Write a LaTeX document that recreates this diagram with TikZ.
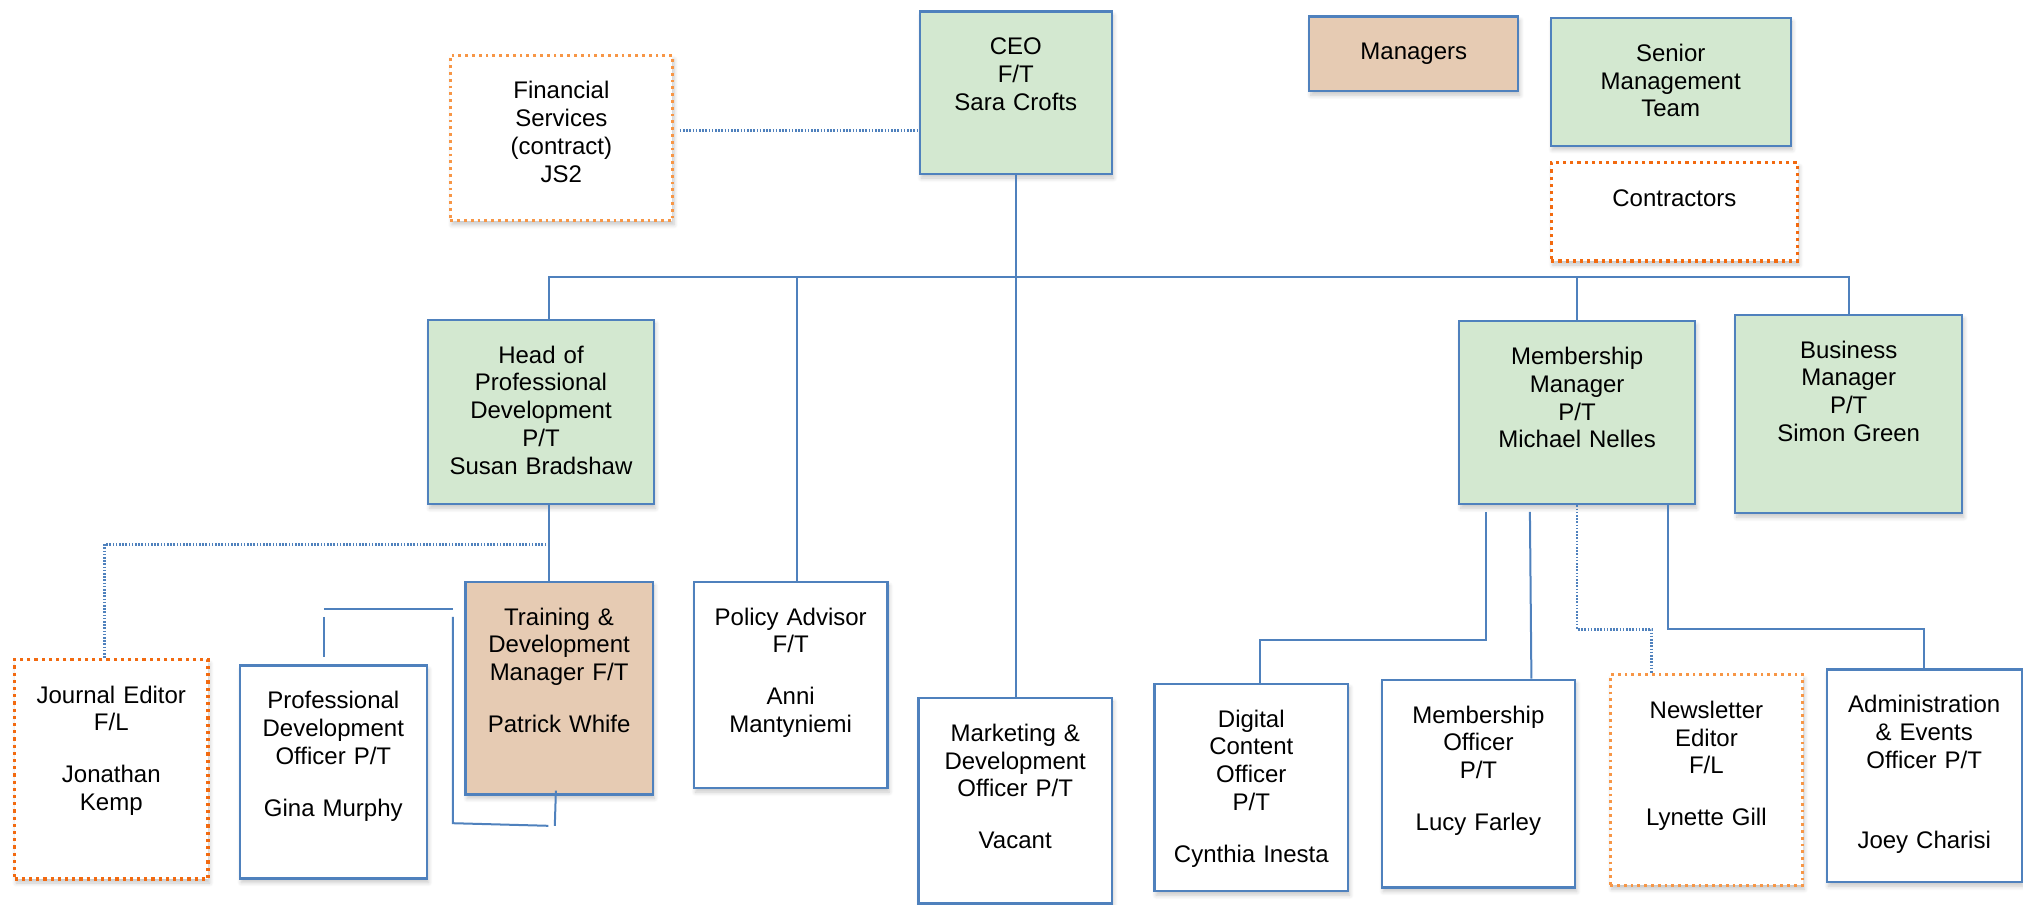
\documentclass[tikz,border=0pt]{standalone}
\usepackage{fontspec}
\setmainfont{Liberation Sans}
\usetikzlibrary{shadows.blur}

\definecolor{lineblue}{HTML}{4F81BD}
\definecolor{smtgreen}{HTML}{D3E8D0}
\definecolor{mgrtan}{HTML}{E6CBB3}
\definecolor{ctrorange}{HTML}{F26A10}
\definecolor{fleorange}{HTML}{F79646}

\tikzset{
  post/.style 2 args={draw=lineblue, line width=1.1pt, fill=white, anchor=north west,
    minimum width=#1, text width=#1, inner xsep=0pt, inner ysep=0pt,
    text height=21.7pt, text depth={#2-21.7pt}, align=center,
    font=\fontsize{12}{13.9}\selectfont,
    blur shadow={shadow xshift=0.8pt, shadow yshift=-2pt, shadow opacity=22, shadow blur steps=6}},
  smt/.style={fill=smtgreen},
  mgr/.style={fill=mgrtan},
  ctr/.style={draw=ctrorange, line width=1.6pt, dash pattern=on 1.6pt off 2pt},
  freel/.style={draw=fleorange, line width=1.4pt, dash pattern=on 1.4pt off 2pt},
  link/.style={draw=lineblue, line width=1pt},
  dotlink/.style={draw=lineblue, line width=1.3pt, dash pattern=on 0.8pt off 0.8pt}
}

\begin{document}
\begin{tikzpicture}[x=1pt, y=1pt]
  \useasboundingbox (0,0) rectangle (1011.5,-452.2);

  % top row and key
  \node[post={96.1pt}{81.3pt}, smt] (ceo) at (459.3,-5.2) {CEO\\F/T\\Sara Crofts};
  \node[post={111pt}{82.6pt}, freel] (fin) at (224.5,-27.1) {Financial\\Services\\(contract)\\JS2};
  \node[post={104.5pt}{37.4pt}, mgr] (mgrkey) at (654.1,-7.7) {Managers};
  \node[post={120pt}{63.9pt}, smt] (smtkey) at (774.8,-8.4) {Senior\\Management\\Team};
  \node[post={123.2pt}{49.1pt}, ctr] (ctrkey) at (774.8,-80.6) {Contractors};

  % managers
  \node[post={112.9pt}{92.3pt}, smt] (hpd) at (213.5,-159.3) {Head of\\Professional\\Development\\P/T\\Susan Bradshaw};
  \node[post={118pt}{91.6pt}, smt] (mm) at (729.0,-160.0) {Membership\\Manager\\P/T\\Michael Nelles};
  \node[post={113.6pt}{99.3pt}, smt] (bm) at (867.0,-156.8) {Business\\Manager\\P/T\\Simon Green};

  % staff
  \node[post={96.7pt}{109.7pt}, ctr] (jnl) at (6.5,-329.0) {Journal Editor\\F/L\\[12pt]Jonathan\\Kemp};
  \node[post={93.6pt}{106.5pt}] (pdo) at (119.3,-332.2) {Professional\\Development\\Officer P/T\\[12pt]Gina Murphy};
  \node[post={93.6pt}{106.4pt}, mgr] (trn) at (232.2,-290.3) {Training \&\\Development\\Manager F/T\\[12pt]Patrick Whife};
  \node[post={96.8pt}{103.2pt}] (pol) at (346.4,-290.3) {Policy Advisor\\F/T\\[12pt]Anni\\Mantyniemi};
  \node[post={96.7pt}{102.8pt}] (mkt) at (458.7,-348.4) {Marketing \&\\Development\\Officer P/T\\[12pt]Vacant};
  \node[post={96.8pt}{103.8pt}] (dig) at (576.7,-341.3) {Digital\\Content\\Officer\\P/T\\[12pt]Cynthia Inesta};
  \node[post={96.7pt}{103.9pt}] (mo) at (690.3,-339.3) {Membership\\Officer\\P/T\\[12pt]Lucy Farley};
  \node[post={96.2pt}{105.2pt}, freel] (nl) at (804.4,-336.7) {Newsletter\\Editor\\F/L\\[12pt]Lynette Gill};
  \node[post={97.5pt}{106.4pt}] (adm) at (912.8,-334.2) {Administration\\\& Events\\Officer P/T\\[26pt]Joey Charisi};

  % lines from the CEO
  \coordinate (bus) at (0,-138.7);
  \draw[dotlink] ([xshift=3pt,yshift=3.9pt]fin.east) -- ([yshift=3.9pt]fin.east -| ceo.west);
  \draw[link] (ceo.south) -- (ceo.south |- mkt.north);
  \draw[link] ([xshift=4.2pt]hpd.north) |- (bus -| bm.north) -- (bm.north);
  \draw[link] ([xshift=3.2pt]pol.north |- bus) -- ([xshift=3.2pt]pol.north);
  \draw[link] (mm.north |- bus) -- (mm.north);

  % under professional development
  \coordinate (hpdspine) at ([xshift=4.2pt]hpd.south);
  \draw[link] (hpdspine) -- (hpdspine |- trn.north);
  \draw[dotlink] ([yshift=-19.4pt]hpdspine) -| ([xshift=-3.3pt]jnl.north);
  \coordinate (pdo-l) at (161.9,-304.5);
  \coordinate (pdo-r) at (226.4,-304.5);
  \draw[link] (pdo-l) -- (pdo-r);
  \draw[link] ([yshift=-3.9pt]pdo-l) -- (161.9,-328.4);
  \draw[link] ([yshift=-3.9pt]pdo-r) -- (226.4,-411.6) -- (274.2,-412.9);
  \draw[link] ([xshift=-1.6pt,yshift=2.5pt]trn.south) -- (277.4,-412.9);

  % under membership
  \draw[link] ([xshift=-45.5pt,yshift=-3.2pt]mm.south) |- ([xshift=4.5pt,yshift=21.3pt]dig.north) -- ([xshift=4.5pt]dig.north);
  \draw[link] ([xshift=-23.6pt,yshift=-3.2pt]mm.south) -- ([xshift=26.5pt]mo.north);
  \draw[dotlink] (mm.south) |- ([xshift=-27.4pt,yshift=22pt]nl.north) -- ([xshift=-27.4pt]nl.north);
  \draw[link] ([xshift=45.5pt]mm.south) |- ([yshift=19.5pt]adm.north) -- (adm.north);
\end{tikzpicture}
\end{document}
